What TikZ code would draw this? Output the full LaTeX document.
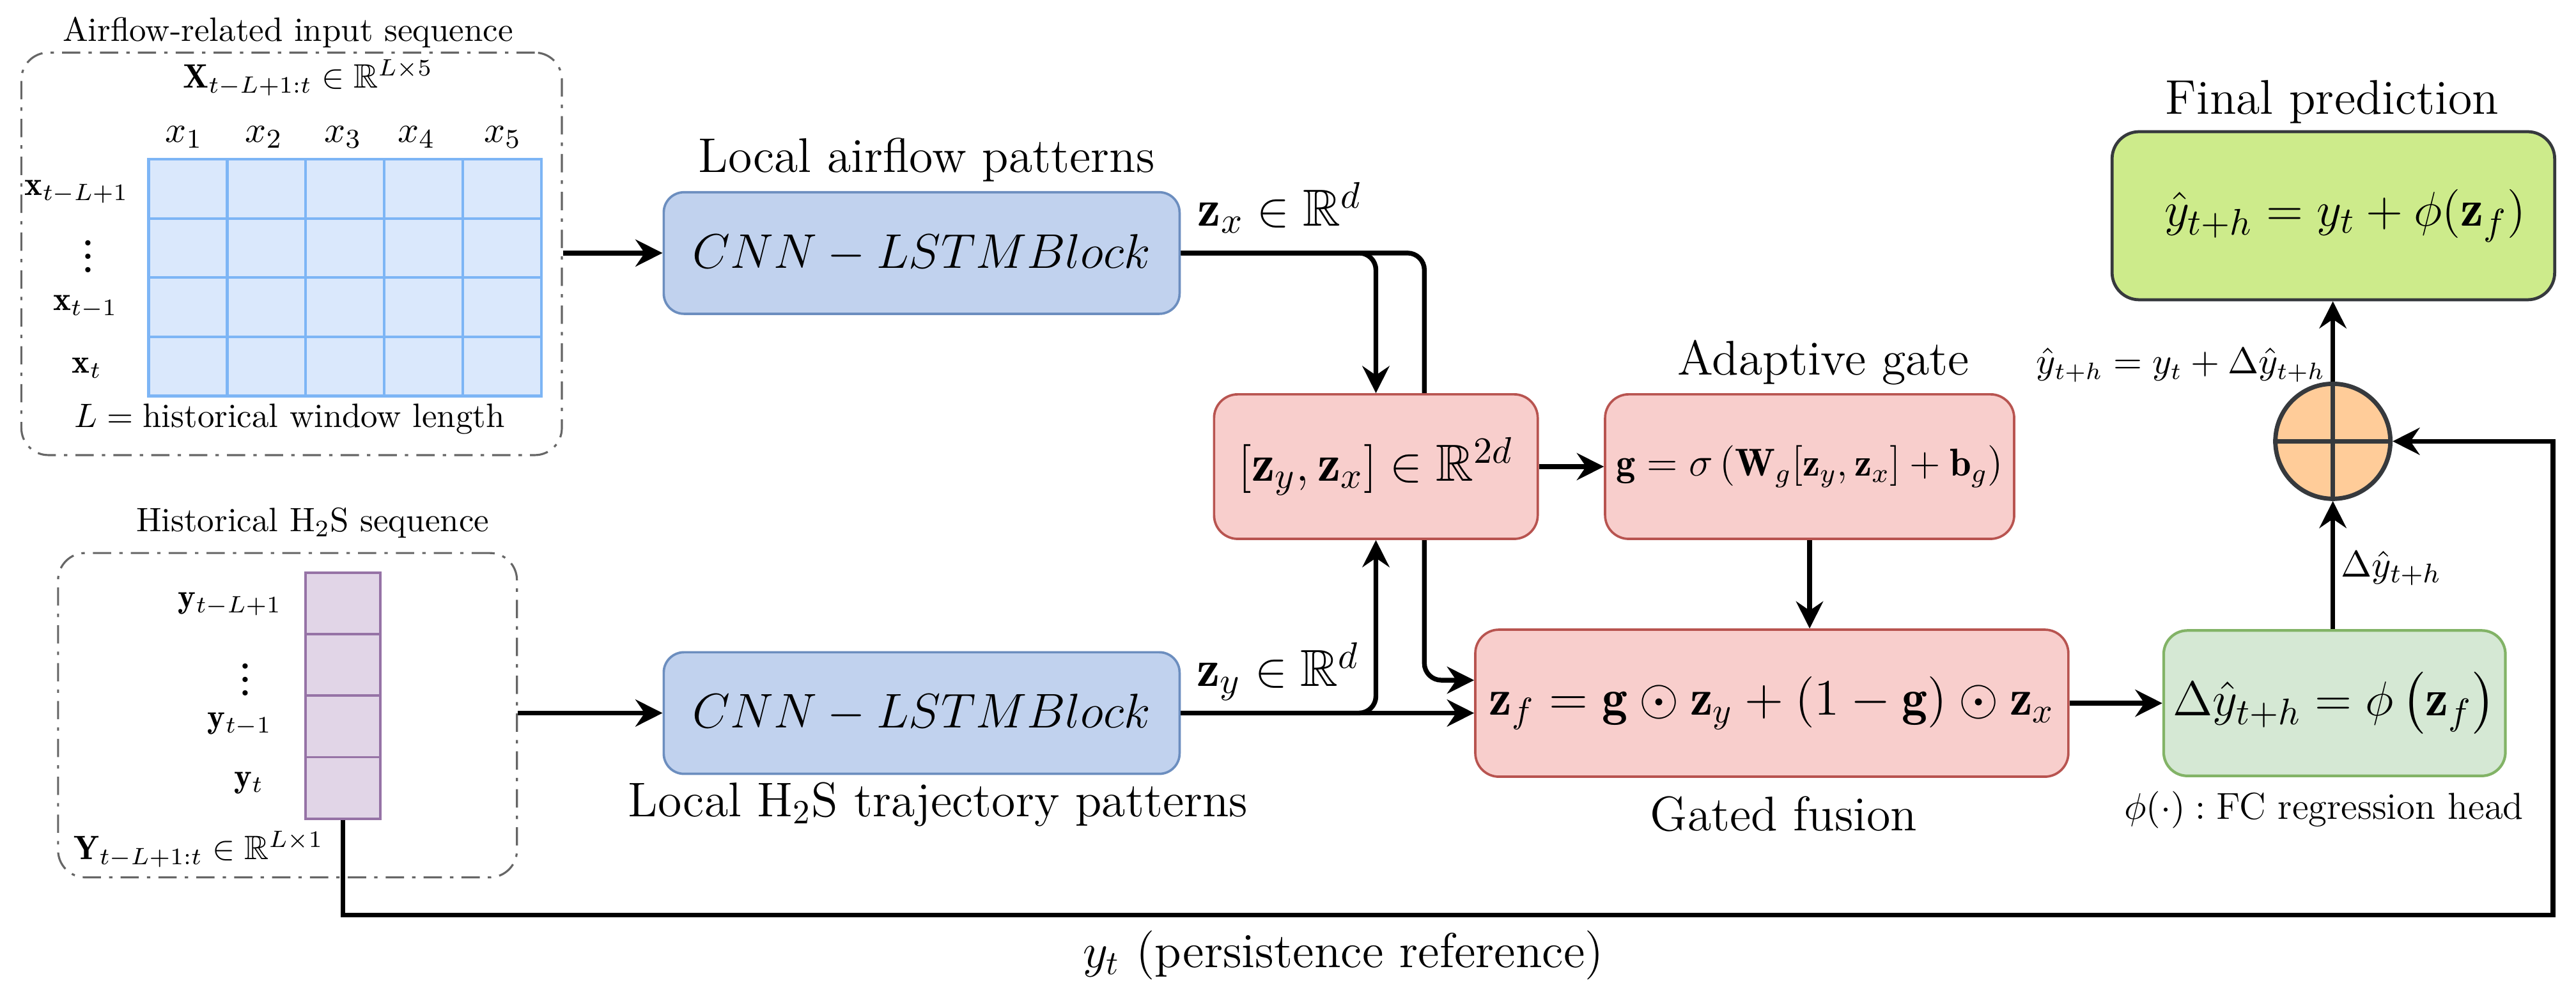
\documentclass[tikz,border=0pt]{standalone}
\usepackage{amsmath,amssymb}
\usepackage{graphicx}
\usepackage{fontspec}
\usetikzlibrary{arrows.meta,calc}
\pgfdeclarelayer{background}
\pgfsetlayers{background,main}
\newcommand\px{0.01707cm}
\newcommand\fs[1]{\fontsize{#1}{#1}\selectfont}
\definecolor{dashgray}{HTML}{666666}
\definecolor{gridfill}{HTML}{DAE8FC}
\definecolor{gridline}{HTML}{7DB5F5}
\definecolor{cnnfill}{HTML}{C1D2EE}
\definecolor{cnnline}{HTML}{6C8EBF}
\definecolor{redfill}{HTML}{F8CECC}
\definecolor{redline}{HTML}{B85450}
\definecolor{grnfill}{HTML}{D5E8D4}
\definecolor{grnline}{HTML}{82B366}
\definecolor{finfill}{HTML}{CDEB8B}
\definecolor{darkline}{HTML}{36393D}
\definecolor{sumfill}{HTML}{FFCC99}
\definecolor{purfill}{HTML}{E1D5E7}
\definecolor{purline}{HTML}{9673A6}
\begin{document}
\begin{tikzpicture}[x=0.01707cm,y=-0.01707cm,
  lbl/.style={inner sep=0pt,anchor=base},
  dashbox/.style={draw=dashgray,line width=0.6pt,rounded corners=8pt,
    dash pattern=on 5.4pt off 2.4pt on 1pt off 2.4pt},
  cnnbox/.style={draw=cnnline,fill=cnnfill,line width=0.7pt,rounded corners=6pt,inner sep=0pt},
  redbox/.style={draw=redline,fill=redfill,line width=0.7pt,rounded corners=7pt,inner sep=0pt},
  grnbox/.style={draw=grnline,fill=grnfill,line width=0.8pt,rounded corners=7pt,inner sep=0pt},
  finbox/.style={draw=darkline,fill=finfill,line width=0.9pt,rounded corners=8pt,inner sep=0pt},
  arr/.style={-{Stealth[length=8pt,width=8pt,inset=2.7pt]},line width=1.4pt}]
\useasboundingbox (0,0) rectangle (1568,605);

% ---------- input boxes ----------
\node[dashbox,minimum width=329*\px,minimum height=245*\px] (box1) at (177.5,154.5) {};
\node[dashbox,minimum width=279.3*\px,minimum height=197.4*\px] (box2) at (175,435.3) {};

\node[lbl] (t1) at (175.3,25) {\fs{10}Airflow-related input sequence};
\node[lbl] (xlab) at (187.5,53.6) {\fs{10}$\mathbf{X}_{t-L+1:t}\in\mathbb{R}^{L\times 5}$};
\node[lbl] (c1) at (112,86.6) {\fs{11}$x_1$};
\node[lbl] (c2) at (160.6,86.6) {\fs{11}$x_2$};
\node[lbl] (c3) at (208.8,86.6) {\fs{11}$x_3$};
\node[lbl] (c4) at (253.5,86.6) {\fs{11}$x_4$};
\node[lbl] (c5) at (306,86.6) {\fs{11}$x_5$};

\node[draw=gridline,fill=gridfill,line width=0.8pt,inner sep=0pt,
  minimum width=239*\px,minimum height=144*\px] (xgrid) at (210,169) {};
\foreach \gx in {138.3,186.1,233.9,281.7}
  \draw[gridline,line width=0.8pt] (\gx,97) -- (\gx,241);
\foreach \gy in {133,169,205}
  \draw[gridline,line width=0.8pt] (90.5,\gy) -- (329.5,\gy);

\node[lbl] (r1) at (46.7,118.8) {\fs{10}$\mathbf{x}_{t-L+1}$};
\node[inner sep=0pt] (r2) at (53.6,150) {\fs{10}\bfseries$\vdots$};
\node[lbl] (r3) at (52,189) {\fs{10}$\mathbf{x}_{t-1}$};
\node[lbl] (r4) at (53,227) {\fs{10}$\mathbf{x}_{t}$};
\node[lbl] (llab) at (176.4,260) {\fs{10}$L=\text{historical window length}$};

\node[lbl] (t2) at (190.3,323.5) {\fs{10}Historical H$_2$S sequence};
\node[draw=purline,fill=purfill,line width=0.7pt,inner sep=0pt,
  minimum width=45.4*\px,minimum height=149.7*\px] (ycol) at (208.7,423.5) {};
\foreach \gy in {386,423.4,460.8}
  \draw[purline,line width=0.7pt] (186,\gy) -- (231.4,\gy);
\node[lbl] (s1) at (140,370) {\fs{10}$\mathbf{y}_{t-L+1}$};
\node[inner sep=0pt] (s2) at (149.3,407.5) {\fs{10}\bfseries$\vdots$};
\node[lbl] (s3) at (146,443) {\fs{10}$\mathbf{y}_{t-1}$};
\node[lbl] (s4) at (151.5,479) {\fs{10}$\mathbf{y}_{t}$};
\node[lbl] (ylab) at (121,523) {\fs{10}$\mathbf{Y}_{t-L+1:t}\in\mathbb{R}^{L\times 1}$};

% ---------- main blocks ----------
\node[cnnbox,minimum width=314*\px,minimum height=74*\px] (cnn1) at (561,154) {\fs{15.5}$CNN-LSTMBlock$};
\node[cnnbox,minimum width=314*\px,minimum height=74*\px] (cnn2) at (561,434) {\fs{15.5}$CNN-LSTMBlock$};
\node[lbl] (cnn1lab) at (564,105) {\fs{14.4}Local airflow patterns};
\node[lbl] (cnn2lab) at (571,497) {\fs{14.4}Local H$_2$S trajectory patterns};

\node[redbox,minimum width=197*\px,minimum height=88*\px] (concat) at (837.5,284)
  {\fs{15.4}$\left[\mathbf{z}_y,\mathbf{z}_x\right]\in\mathbb{R}^{2d}$};
\node[redbox,minimum width=249*\px,minimum height=88*\px] (gate) at (1101.5,284)
  {\fs{11.5}$\mathbf{g}=\sigma\left(\mathbf{W}_g[\mathbf{z}_y,\mathbf{z}_x]+\mathbf{b}_g\right)$};
\node[lbl] (gatelab) at (1110,228) {\fs{14.4}Adaptive gate};
\node[redbox,minimum width=361*\px,minimum height=89.5*\px] (fusion) at (1078.5,428)
  {\scalebox{1.05}{\fs{14.4}$\mathbf{z}_f=\mathbf{g}\odot\mathbf{z}_y+\left(1-\mathbf{g}\right)\odot\mathbf{z}_x$}};
\node[lbl] (fuslab) at (1085.6,505.6) {\fs{14.4}Gated fusion};

\node[grnbox,minimum width=208*\px,minimum height=88.5*\px] (delta) at (1421,428)
  {\fs{15.3}$\Delta\hat{y}_{t+h}=\phi\left(\mathbf{z}_f\right)$};
\node[lbl] (fclab) at (1414.5,498.7) {\fs{11.1}$\phi(\cdot):\text{FC regression head}$};

\node[finbox,minimum width=269.4*\px,minimum height=102.3*\px] (final) at (1420.3,131.3)
  {\hspace*{7pt}\fs{15.3}$\hat{y}_{t+h}=y_t+\phi(\mathbf{z}_f)$};
\node[lbl] (finlab) at (1419.5,69.6) {\fs{14.4}Final prediction};

\node[circle,draw=darkline,fill=sumfill,line width=1.3pt,inner sep=0pt,minimum size=70*\px] (sum) at (1420,268.6) {};
\draw[darkline,line width=1.3pt] (sum.north) -- (sum.south) (sum.west) -- (sum.east);

\node[lbl] (sumlab) at (1327.5,227.6) {\fs{10.5}$\hat{y}_{t+h}=y_t+\Delta\hat{y}_{t+h}$};
\node[lbl] (dlab) at (1455.5,351) {\fs{11.2}$\Delta\hat{y}_{t+h}$};
\node[lbl] (zxlab) at (779,137.5) {\fs{15.4}$\mathbf{z}_x\in\mathbb{R}^d$};
\node[lbl] (zylab) at (778,417.5) {\fs{15.4}$\mathbf{z}_y\in\mathbb{R}^d$};
\node[lbl] (perslab) at (817.7,588.8) {\fs{14.5}$y_t$ (persistence reference)};

% ---------- connectors ----------
\coordinate (zxbend) at (867,154);
\coordinate (fbr) at (1554,557);
\begin{pgfonlayer}{background}
\draw[arr,rounded corners=5pt] (cnn1.east) -- (zxbend) |- ($(fusion.west)+(0,-14)$);
\end{pgfonlayer}
\draw[arr] (box1.east |- cnn1.west) -- (cnn1.west);
\draw[arr] (box2.east |- cnn2.west) -- (cnn2.west);
\draw[arr,rounded corners=5pt] (cnn1.east) -| (concat.north);
\draw[arr,rounded corners=5pt] (cnn2.east) -| (concat.south);
\draw[arr] (cnn2.east) -- (fusion.west |- cnn2.east);
\draw[arr] (concat.east) -- (gate.west);
\draw[arr] (gate.south) -- (gate.south |- fusion.north);
\draw[arr] (fusion.east) -- (delta.west);
\draw[arr] (sum.south |- delta.north) -- (sum.south);
\draw[arr] (sum.north) -- (sum.north |- final.south);
\draw[arr] (ycol.south) |- (fbr) |- (sum.east);
\end{tikzpicture}
\end{document}
